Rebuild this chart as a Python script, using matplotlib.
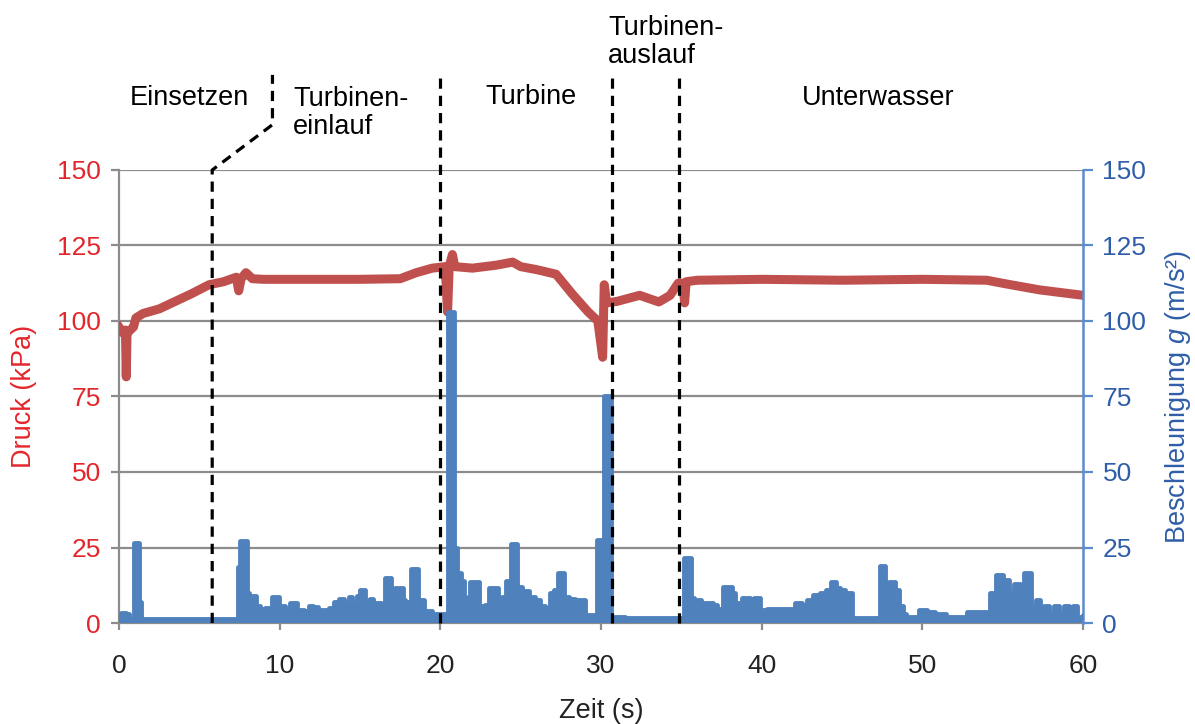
import numpy as np
import matplotlib
matplotlib.use("Agg")
import matplotlib.pyplot as plt

plt.rcParams["font.family"] = ["Liberation Sans", "DejaVu Sans"]
plt.rcParams["mathtext.fontset"] = "custom"
plt.rcParams["mathtext.rm"] = "Liberation Sans"
plt.rcParams["mathtext.it"] = "Liberation Sans:italic"

# Druck (kPa)
t_druck = [0.0, 0.25, 0.4, 0.45, 0.5, 0.7, 0.9, 1.05, 1.5, 2.5, 3.5, 4.5, 5.6, 6.5,
           7.3, 7.45, 7.6, 7.9, 8.3, 9.0, 12.0, 15.0, 17.5, 18.5, 19.5, 20.3, 20.45,
           20.55, 20.75, 20.9, 22.0, 23.5, 24.5, 25.0, 26.0, 27.2, 28.2, 29.2, 29.8,
           30.1, 30.2, 30.35, 31.0, 32.4, 33.6, 34.3, 34.8, 35.1, 35.2, 35.3, 36.0,
           40.0, 45.0, 50.0, 54.0, 55.5, 57.3, 58.5, 60.0]
druck = [98, 96, 97, 81.5, 96, 97, 98, 101, 102.5, 104, 106.5, 109, 112, 113,
         114.5, 110, 114, 116, 114, 113.8, 113.8, 113.8, 114, 116, 117.5, 118, 103,
         118, 122, 118, 117.5, 118.5, 119.5, 118, 117, 115.5, 109, 103, 100,
         88, 112, 106, 106.5, 108.5, 106.3, 108.5, 112.5, 112.5, 106, 113, 113.5,
         113.8, 113.5, 113.8, 113.5, 112, 110.3, 109.5, 108.5]

# Beschleunigung (m/s²)
t_acc = [0.0, 0.15, 0.45, 0.6, 0.9, 0.95, 1.2, 1.25, 1.35, 7.35, 7.4, 7.55, 7.85,
         7.95, 8.1, 8.3, 8.5, 8.8, 9.1, 9.4, 9.55, 9.8, 9.95, 10.3, 10.65, 10.95,
         11.1, 11.5, 11.85, 12.1, 12.4, 12.8, 13.1, 13.4, 13.7, 14.0, 14.3, 14.5,
         14.8, 15.0, 15.3, 15.6, 15.8, 16.3, 16.55, 16.85, 16.95, 17.2, 17.5, 17.65,
         17.8, 17.9, 18.15, 18.4, 18.6, 19.0, 19.5, 20.4, 20.45, 20.75, 20.85, 21.05,
         21.3, 21.5, 21.6, 21.85, 22.05, 22.4, 22.75, 23.05, 23.3, 23.6, 23.85, 24.1,
         24.35, 24.4, 24.65, 24.75, 25.1, 25.5, 25.9, 26.2, 26.5, 26.8, 27.1, 27.3,
         27.6, 27.7, 28.0, 28.4, 28.7, 29.0, 29.5, 29.7, 29.75, 30.1, 30.2, 30.55,
         30.65, 31.5, 34.95, 35.15, 35.45, 35.6, 35.8, 36.2, 36.7, 37.0, 37.2, 37.6,
         37.95, 38.15, 38.35, 38.5, 38.75, 39.15, 39.3, 39.55, 39.8, 39.9, 40.3, 41.6,
         42.1, 42.5, 42.8, 43.2, 43.6, 44.0, 44.3, 44.6, 44.9, 45.2, 45.55, 45.65,
         47.3, 47.35, 47.6, 47.7, 47.95, 48.3, 48.55, 48.8, 49.0, 49.4, 49.8, 50.3,
         50.8, 51.5, 52.5, 52.8, 53.6, 54.0, 54.2, 54.6, 55.0, 55.4, 55.7, 56.05,
         56.3, 56.6, 56.75, 57.1, 57.35, 57.6, 57.9, 58.2, 58.5, 58.8, 59.1, 59.35,
         59.6, 60.0]
acc = [2, 3.3, 3, 1.3, 1.3, 26.5, 26.5, 7, 1.3, 1.3, 18.5, 27, 27,
       10, 7.5, 9, 5.5, 4.5, 5, 4, 8.5, 8.5, 5.5, 4.5, 6.5, 6.5,
       4.3, 4, 5.6, 5.4, 4.3, 4.3, 5, 7, 8, 6.5, 8.5, 6.5,
       9, 11, 7.5, 8, 6.5, 6.3, 15, 15, 1.5, 11.5, 11.5, 7.5,
       1.5, 7, 18, 18, 7.6, 4, 3, 2.5, 103, 103, 25, 16.5,
       14, 8.5, 5, 13.5, 13.5, 5.5, 6, 11.5, 11.5, 7.5, 8.5, 14,
       12, 26, 26, 12, 10.5, 8.5, 7.5, 5.5, 5, 10, 11, 16.5,
       16.5, 8.5, 8, 7.5, 7.5, 2.6, 2.6, 2.6, 27.5, 27.5, 75, 75,
       2, 1.6, 1.6, 21.5, 21.5, 8.2, 7.5, 6.6, 6.6, 6, 4.5, 12,
       12, 9.9, 5.5, 6.6, 8.2, 8.2, 1.5, 8.2, 8.2, 4.4, 4.5, 4.5,
       6.6, 5.5, 7.5, 9.3, 10, 11, 13.5, 11.5, 11, 10, 10, 1.6,
       1.6, 19, 19, 1.6, 13.5, 11, 5.5, 3, 2, 2, 4.4, 3.5,
       3, 2, 2, 3.5, 3.5, 3, 9.9, 16, 14.3, 10, 13, 10,
       16.5, 16.5, 5.5, 7.5, 2, 5.5, 3, 5.5, 3, 5.5, 3, 5.5,
       2, 2.5]

# Phasengrenzen und Beschriftungen
grenzen = [20.0, 30.68, 34.85]
einsetzen_linie_x = [5.8, 5.8, 9.55, 9.55]
einsetzen_linie_y = [0, 150, 165, 181.5]
phasen = ["Einsetzen", "Turbinen-\neinlauf", "Turbine", "Turbinen-\nauslauf", "Unterwasser"]
phasen_x = [4.36, 10.83, 25.64, 30.43, 47.23]
phasen_y = [173.8, 168.9, 174.2, 192.4, 173.8]
phasen_ha = ["center", "left", "center", "left", "center"]

red = "#c0504d"
blue = "#4f81bd"
red_txt = "#e3262b"
blue_txt = "#2f5ea8"
grid_gray = "#8c8c8c"
fs = 19.5

fig = plt.figure(figsize=(11.95, 7.24), dpi=100)
ax = fig.add_axes([0.0996, 0.1395, 0.8067, 0.6257])
ax2 = ax.twinx()

ax.plot(t_druck, druck, color=red, lw=6.5, solid_joinstyle="round", zorder=3)

ax2.fill_between(t_acc, acc, step="post", color=blue, lw=0, zorder=2)
ax2.plot(t_acc, acc, drawstyle="steps-post", color=blue, lw=3.5,
         solid_joinstyle="round", solid_capstyle="round", zorder=3)

ls = (0, (3.2, 2.2))
ax2.plot(einsetzen_linie_x, einsetzen_linie_y, color="black", lw=2.3,
         linestyle=ls, clip_on=False, zorder=5)
for g in grenzen:
    ax2.plot([g, g], [0, 181.5], color="black", lw=2.3, linestyle=ls,
             clip_on=False, zorder=5)

for txt, x, y, ha in zip(phasen, phasen_x, phasen_y, phasen_ha):
    ax2.text(x, y, txt, ha=ha, va="center", fontsize=fs, linespacing=1.1,
             clip_on=False)

for a in (ax, ax2):
    a.set_xlim(0, 60)
    a.set_ylim(0, 150)
    a.set_yticks(np.arange(0, 151, 25))
    a.patch.set_visible(False)

ax.set_xticks(np.arange(0, 61, 10))
ax.yaxis.grid(True, color=grid_gray, lw=1.6)
ax.set_axisbelow(True)

ax.spines["top"].set_visible(False)
ax2.spines["top"].set_visible(False)
ax.spines["left"].set_color(grid_gray)
ax.spines["bottom"].set_color(grid_gray)
ax.spines["left"].set_linewidth(1.6)
ax.spines["bottom"].set_linewidth(1.6)
ax2.spines["left"].set_visible(False)
ax2.spines["bottom"].set_visible(False)
ax2.spines["right"].set_color("#5b8bd0")
ax2.spines["right"].set_linewidth(1.8)
ax.spines["right"].set_visible(False)

ax.tick_params(axis="y", colors=grid_gray, labelcolor=red_txt, labelsize=19,
               length=6, width=1.6, pad=7)
ax.tick_params(axis="x", colors=grid_gray, labelcolor="#222222", labelsize=19,
               length=5, width=1.6, pad=17)
ax2.tick_params(axis="y", colors="#5b8bd0", labelcolor=blue_txt, labelsize=19,
                length=7, width=1.6, pad=7)

ax.set_ylabel("Druck (kPa)", color=red_txt, fontsize=fs)
ax.yaxis.set_label_coords(-0.085, 0.5)
ax2.set_ylabel("Beschleunigung $g$ (m/s²)", color=blue_txt, fontsize=fs)
ax2.yaxis.set_label_coords(1.083, 0.5)
ax.set_xlabel("Zeit (s)", color="#222222", fontsize=fs)
ax.xaxis.set_label_coords(0.5, -0.166)

fig.savefig("out.png", dpi=100)
